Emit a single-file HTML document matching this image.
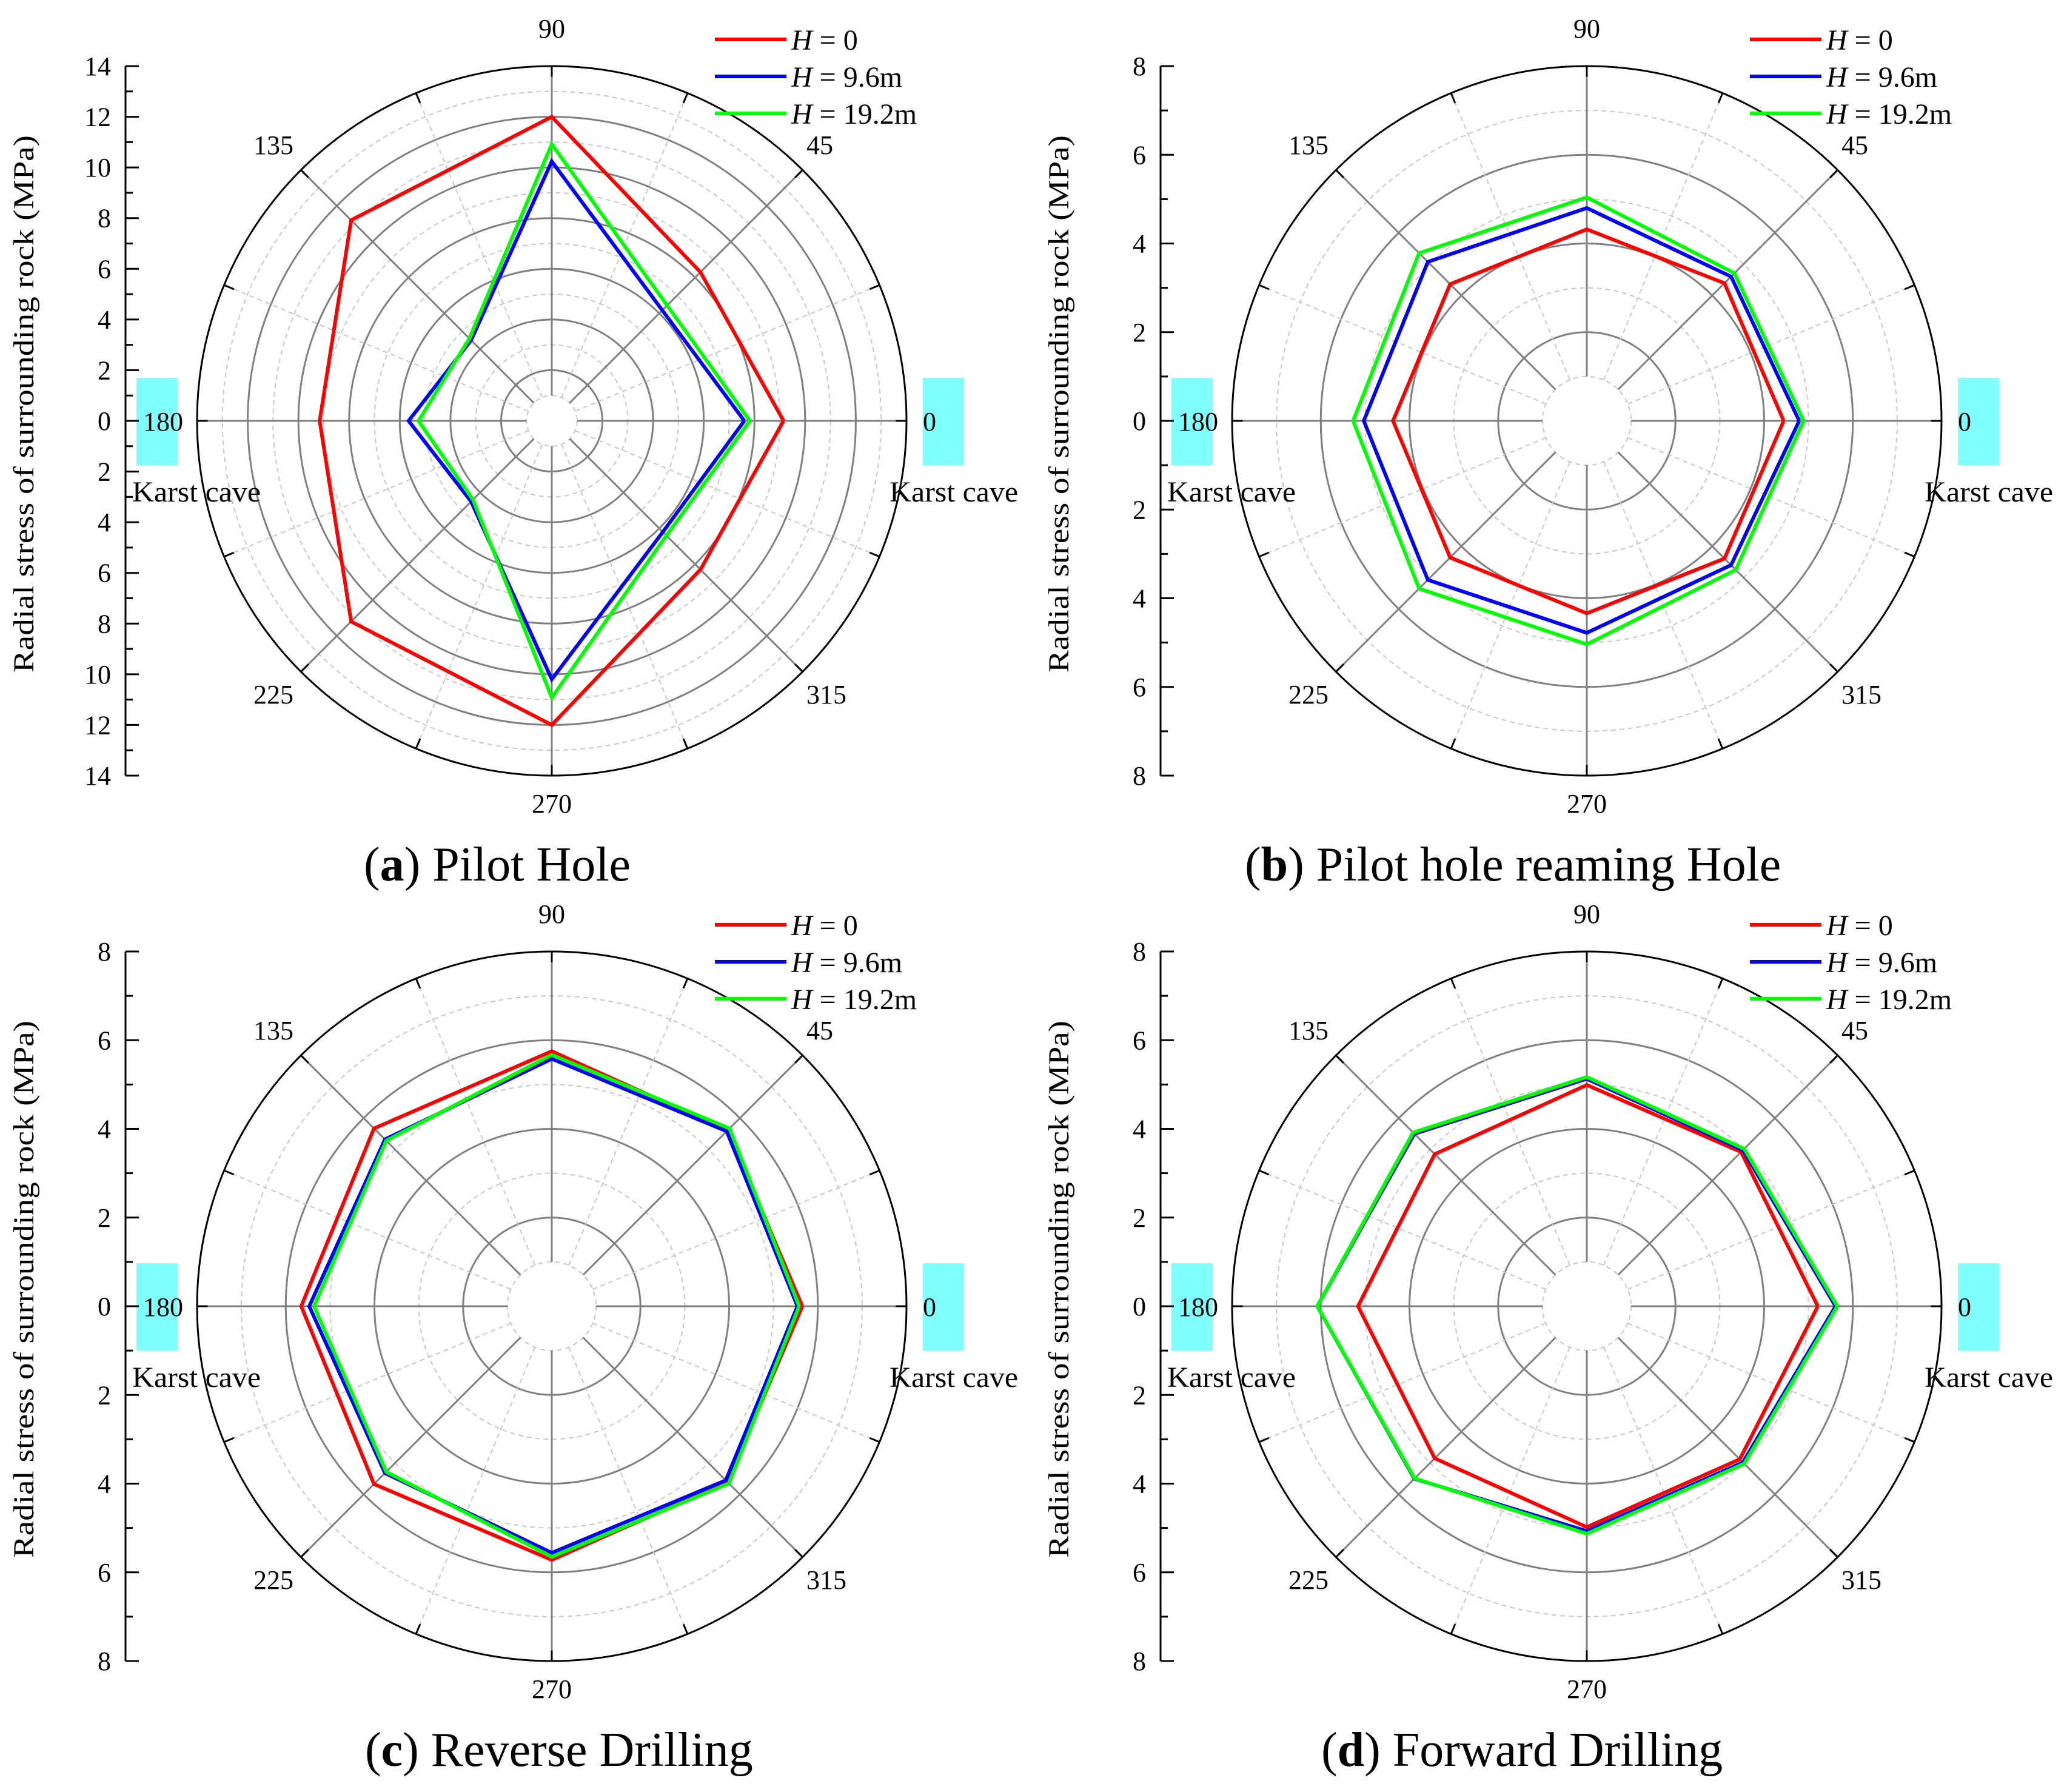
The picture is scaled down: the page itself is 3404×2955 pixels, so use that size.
<!DOCTYPE html>
<html><head><meta charset="utf-8"><style>
html,body{margin:0;padding:0;background:#fff;}
svg{display:block;}
svg text{font-family:"Liberation Serif", serif;}
</style></head><body>
<svg id="fig" xmlns="http://www.w3.org/2000/svg" width="3404" height="2955" viewBox="0 0 3404 2955"></svg>
<script>
// ---- data ----
const angles = [0, 45, 90, 135, 180, 225, 270, 315];
const seriesNames = ["H = 0", "H = 9.6m", "H = 19.2m"];
const colors = ["#ff0000", "#0000ff", "#00ff00"];
// Panel (a) Pilot Hole
const aH0   = [9.15, 8.3, 12.0, 11.2, 9.16, 11.2, 12.0, 8.3];
const aH96  = [7.6, 6.17, 10.24, 4.5, 5.65, 4.5, 10.2, 6.2];
const aH192 = [7.82, 6.44, 10.92, 4.6, 5.26, 4.4, 10.92, 6.4];
// Panel (b) Pilot hole reaming Hole
const bH0   = [4.44, 4.39, 4.32, 4.36, 4.37, 4.36, 4.34, 4.39];
const bH96  = [4.79, 4.6, 4.8, 5.07, 5.03, 5.07, 4.78, 4.6];
const bH192 = [4.89, 4.71, 5.04, 5.35, 5.27, 5.35, 5.04, 4.75];
// Panel (c) Reverse Drilling
const cH0   = [5.65, 5.61, 5.75, 5.67, 5.65, 5.67, 5.72, 5.6];
const cH96  = [5.54, 5.58, 5.58, 5.32, 5.47, 5.32, 5.56, 5.55];
const cH192 = [5.58, 5.67, 5.67, 5.28, 5.36, 5.28, 5.65, 5.65];
// Panel (d) Forward Drilling
const dH0   = [5.21, 4.92, 4.99, 4.85, 5.16, 4.85, 4.98, 4.88];
const dH96  = [5.61, 4.98, 5.13, 5.5, 6.08, 5.5, 5.07, 4.98];
const dH192 = [5.65, 5.02, 5.17, 5.54, 6.08, 5.49, 5.13, 5.02];
const aTicks = [14,12,10,8,6,4,2,0,2,4,6,8,10,12,14];
const bTicks = [8,6,4,2,0,2,4,6,8];
const captions = [["a","Pilot Hole"],["b","Pilot hole reaming Hole"],["c","Reverse Drilling"],["d","Forward Drilling"]];

const NS = "http://www.w3.org/2000/svg";
const svg = document.getElementById("fig");
function mk(tag, attrs, parent){
  const e = document.createElementNS(NS, tag);
  for (const k in attrs) e.setAttribute(k, attrs[k]);
  (parent||svg).appendChild(e);
  return e;
}
const R = 585;

function panel(idx, cx, cy, maxV, ticks, series, capX, capY){
  const g = mk("g", {});
  
  
  const rScale = v => v / maxV * R;
  const pt = (v, a) => [cx + rScale(v)*Math.cos(a*Math.PI/180), cy - rScale(v)*Math.sin(a*Math.PI/180)];
  for (let u = 1; u < maxV; u++){
    const c = mk("circle", {cx:cx, cy:cy, r:rScale(u), fill:"none",
      stroke: (u%2===0) ? "#808080" : "#c8c8c8", "stroke-width": (u%2===0)?3:2,
      "stroke-dasharray": (u%2===0) ? "none" : "8 6"}, g);
    
    
  }
  for (let k = 0; k < 16; k++){
    const a = k*22.5;
    const p1 = pt(1, a), p2 = pt(maxV, a);
    const major = k%2===0;
    const l = mk("line", {x1:p1[0], y1:p1[1], x2:p2[0], y2:p2[1],
      stroke: major ? "#808080" : "#c8c8c8", "stroke-width": major?3:2,
      "stroke-dasharray": major ? "none" : "8 6"}, g);
    
    
    const p3 = pt(maxV*0.97, a);
    const t = mk("line", {x1:p3[0], y1:p3[1], x2:p2[0], y2:p2[1], stroke:"#000", "stroke-width":3}, g);
    
    
  }
  const outer = mk("circle", {cx:cx, cy:cy, r:R, fill:"none", stroke:"#000", "stroke-width":3}, g);
  
  
  [[cx-685, "karst-marker-left"], [cx+612, "karst-marker-right"]].forEach(b=>{
    const r = mk("rect", {x:b[0], y:cy-71, width:68, height:144, fill:"#80ffff"}, g);
    
    
  });
  series.forEach((vals, si)=>{
    const pts = angles.map((a,i)=>pt(vals[i], a));
    pts.push(pts[0]);
    const pl = mk("polyline", {points: pts.map(p=>p[0].toFixed(1)+","+p[1].toFixed(1)).join(" "),
      fill:"none", stroke:colors[si], "stroke-width":6, "stroke-linejoin":"miter"}, g);
    
    
  });
  const al = [["0", cx+612, cy+16, "start"], ["45", cx+442, cy-440, "middle"], ["90", cx, cy-632, "middle"],
    ["135", cx-459, cy-440, "middle"], ["180", cx-608, cy+16, "end"], ["225", cx-459, cy+466, "middle"],
    ["270", cx, cy+646, "middle"], ["315", cx+453, cy+466, "middle"]];
  al.forEach(a=>{
    const t = mk("text", {x:a[1], y:a[2], "text-anchor":a[3], "font-size":44, fill:"#000"}, g);
    t.textContent = a[0];
    
    
  });
  [[cx-692, "karst-label-left"], [cx+557, "karst-label-right"]].forEach(k=>{
    const t = mk("text", {x:k[0], y:cy+133, "font-size":48, textLength:212, lengthAdjust:"spacingAndGlyphs"}, g);
    t.textContent = "Karst cave";
    
    
  });
  const ax = cx - 703;
  const axl = mk("line", {x1:ax, y1:cy-R, x2:ax, y2:cy+R, stroke:"#000", "stroke-width":3}, g);
  
  
  const n = ticks.length;
  for (let i = 0; i < n; i++){
    const y = cy - R + i*(2*R/(n-1));
    const tk = mk("line", {x1:ax, y1:y, x2:ax+22, y2:y, stroke:"#000", "stroke-width":3}, g);
    
    
    const tl = mk("text", {x:ax-24, y:y+15, "text-anchor":"end", "font-size":44}, g);
    tl.textContent = ticks[i];
    
    
    if (i < n-1){
      const ym = y + R/(n-1);
      const mt = mk("line", {x1:ax, y1:ym, x2:ax+12, y2:ym, stroke:"#000", "stroke-width":3}, g);
      
      
    }
  }
  const yt = mk("text", {x:0, y:0, transform:"translate("+(cx-855)+","+(cy-28)+") rotate(-90)", "text-anchor":"middle",
    "font-size":48, textLength:886, lengthAdjust:"spacingAndGlyphs"}, g);
  yt.textContent = "Radial stress of surrounding rock (MPa)";
  
  
  seriesNames.forEach((s, si)=>{
    const y = cy - 629 + si*61;
    const ll = mk("line", {x1:cx+269, y1:y, x2:cx+387, y2:y, stroke:colors[si], "stroke-width":6}, g);
    
    
    const t = mk("text", {x:cx+395, y:y+17, "font-size":48}, g);
    const parts = s.split(" = ");
    const it = mk("tspan", {"font-style":"italic"}, t);
    it.textContent = "H";
    const rest = mk("tspan", {}, t);
    rest.textContent = " = " + parts[1];
    
    
  });
  const cap = mk("text", {x:capX, y:capY, "font-size":80}, g);
  const t1 = mk("tspan", {}, cap); t1.textContent = "(";
  const t2 = mk("tspan", {"font-weight":"bold"}, cap); t2.textContent = captions[idx][0];
  const t3 = mk("tspan", {}, cap); t3.textContent = ") " + captions[idx][1];
  
  
}
panel(0, 910, 694, 14, aTicks, [aH0, aH96, aH192], 600, 1452);
panel(1, 2617, 694, 8, bTicks, [bH0, bH96, bH192], 2053, 1452);
panel(2, 910, 2154, 8, bTicks, [cH0, cH96, cH192], 602, 2912);
panel(3, 2617, 2154, 8, bTicks, [dH0, dH96, dH192], 2179, 2912);
</script>
</body></html>
